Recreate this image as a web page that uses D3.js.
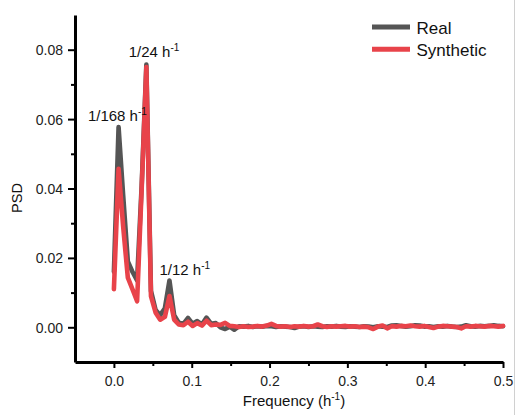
<!DOCTYPE html>
<html>
<head>
<meta charset="utf-8">
<script src="https://cdn.jsdelivr.net/npm/d3@7/dist/d3.min.js"></script>
<style>
  html, body { margin: 0; padding: 0; background: #fff; }
  svg { display: block; font-family: "Liberation Sans", Arial, sans-serif; }
</style>
</head>
<body>
<svg id="chart" width="516" height="415"></svg>
<script>
// Frequency bins (h^-1)
const freq = [
  0.0000, 0.0060, 0.0119, 0.0179, 0.0238, 0.0298, 0.0357, 0.0417, 0.0476, 0.0536,
  0.0595, 0.0655, 0.0714, 0.0774, 0.0833, 0.0893, 0.0952, 0.1012, 0.1071, 0.1131,
  0.1190, 0.1250, 0.1310, 0.1369, 0.1429, 0.1488, 0.1548, 0.1607, 0.1667, 0.1726,
  0.1786, 0.1845, 0.1905, 0.1964, 0.2024, 0.2083, 0.2143, 0.2202, 0.2262, 0.2321,
  0.2381, 0.2440, 0.2500, 0.2560, 0.2619, 0.2679, 0.2738, 0.2798, 0.2857, 0.2917,
  0.2976, 0.3036, 0.3095, 0.3155, 0.3214, 0.3274, 0.3333, 0.3393, 0.3452, 0.3512,
  0.3571, 0.3631, 0.3690, 0.3750, 0.3810, 0.3869, 0.3929, 0.3988, 0.4048, 0.4107,
  0.4167, 0.4226, 0.4286, 0.4345, 0.4405, 0.4464, 0.4524, 0.4583, 0.4643, 0.4702,
  0.4762, 0.4821, 0.4881, 0.4940, 0.5000
];

// Power spectral density of the measured series
const psdReal = [
  0.0160, 0.0577, 0.0380, 0.0190, 0.0160, 0.0135, 0.0410, 0.0757, 0.0105, 0.0050,
  0.0035, 0.0055, 0.0135, 0.0035, 0.0013, 0.0010, 0.0027, 0.0010, 0.0018, 0.0008,
  0.0028, 0.0010, 0.0012, 0.0000, -0.0005, 0.0002, -0.0007, 0.0003, 0.0002, 0.0004,
  0.0001, 0.0003, 0.0002, 0.0004, 0.0003, 0.0001, 0.0003, 0.0002, 0.0001, -0.0002,
  0.0002, 0.0003, 0.0001, 0.0003, 0.0002, 0.0001, 0.0003, 0.0002, 0.0004, 0.0002,
  0.0001, 0.0003, 0.0002, 0.0001, 0.0003, 0.0002, 0.0000, 0.0003, 0.0002, 0.0001,
  0.0005, 0.0006, 0.0004, 0.0002, 0.0003, 0.0006, 0.0005, 0.0002, 0.0003, 0.0001,
  0.0003, 0.0002, 0.0004, 0.0002, 0.0001, 0.0002, 0.0006, 0.0003, 0.0002, 0.0004,
  0.0003, 0.0004, 0.0006, 0.0004, 0.0003
];

// Power spectral density of the generated series
const psdSynthetic = [
  0.0110, 0.0457, 0.0290, 0.0143, 0.0110, 0.0075, 0.0400, 0.0750, 0.0090, 0.0042,
  0.0022, 0.0030, 0.0090, 0.0022, 0.0008, 0.0006, 0.0016, 0.0004, 0.0012, 0.0005,
  0.0019, 0.0006, 0.0008, 0.0007, 0.0013, 0.0004, 0.0003, 0.0001, 0.0003, 0.0001,
  0.0002, 0.0004, 0.0002, 0.0005, 0.0010, 0.0004, 0.0002, 0.0003, 0.0001, 0.0003,
  0.0002, 0.0004, 0.0002, 0.0003, 0.0008, 0.0003, 0.0001, 0.0003, 0.0002, 0.0003,
  0.0004, 0.0002, 0.0003, 0.0001, 0.0002, 0.0000, -0.0005, 0.0002, 0.0005, -0.0003,
  0.0003, 0.0002, 0.0004, 0.0003, 0.0005, 0.0003, 0.0002, 0.0004, 0.0001, -0.0002,
  0.0002, 0.0004, 0.0003, 0.0002, 0.0001, -0.0003, 0.0003, 0.0002, 0.0004, 0.0003,
  0.0002, 0.0004, 0.0003, 0.0002, 0.0004
];

const seriesNames = ["Real", "Synthetic"];
const xTicks = [0.0, 0.1, 0.2, 0.3, 0.4, 0.5];
const xMinorTicks = [0.05, 0.15, 0.25, 0.35, 0.45];
const yTicks = [0.00, 0.02, 0.04, 0.06, 0.08];
const yMinorTicks = [0.01, 0.03, 0.05, 0.07];

// Labelled peaks: index into freq and the label text
const peakIndex = [1, 7, 12];
const peakLabel = ["1/168 h", "1/24 h", "1/12 h"];

const colors = { Real: "#555555", Synthetic: "#e8434a" };
const inkColor = "#111";

const svg = d3.select("#chart");
const plotLeft = 75, plotRight = 503, plotTop = 15, plotBottom = 362;

const x = d3.scaleLinear().domain([-0.05, 0.5]).range([plotLeft, plotRight]);
const y = d3.scaleLinear().domain([-0.01, 0.09]).range([plotBottom, plotTop]);

// Thin border line at the right edge of the canvas
svg.append("line")
  .attr("x1", 514.5).attr("x2", 514.5).attr("y1", 0).attr("y2", 415)
  .attr("stroke", "#d0d0d0").attr("stroke-width", 1);

// Spectra
const line = d3.line().x(d => x(d[0])).y(d => y(d[1]));
const seriesData = {
  Real: freq.map((f, i) => [f, psdReal[i]]),
  Synthetic: freq.map((f, i) => [f, psdSynthetic[i]])
};
seriesNames.forEach(name => {
  svg.append("path")
    .datum(seriesData[name])
    .attr("d", line)
    .attr("fill", "none")
    .attr("stroke", colors[name])
    .attr("stroke-width", 4.6)
    .attr("stroke-linejoin", "round")
    .attr("stroke-linecap", "round");
});

// Axes
function styleAxis(g) {
  g.selectAll(".domain").attr("stroke", "#000").attr("stroke-width", 3);
  g.selectAll(".tick line").attr("stroke", "#000").attr("stroke-width", 2);
  g.selectAll(".tick text")
    .attr("fill", "#222")
    .style("font-size", "14px")
    .style("font-family", "'Liberation Sans', Arial, sans-serif");
}

const yAxis = svg.append("g")
  .attr("transform", `translate(${plotLeft},0)`)
  .call(d3.axisLeft(y).tickValues(yTicks).tickFormat(d3.format(".2f"))
    .tickSizeInner(7).tickSizeOuter(0).tickPadding(5));
styleAxis(yAxis);
yAxis.selectAll(".tick text").attr("dy", "0.36em");

const yMinor = svg.append("g")
  .attr("transform", `translate(${plotLeft},0)`)
  .call(d3.axisLeft(y).tickValues(yMinorTicks).tickFormat("").tickSizeInner(4).tickSizeOuter(0));
yMinor.select(".domain").remove();
yMinor.selectAll(".tick line").attr("stroke", "#000").attr("stroke-width", 2);

const xAxis = svg.append("g")
  .attr("transform", `translate(0,${plotBottom})`)
  .call(d3.axisBottom(x).tickValues(xTicks).tickFormat(d3.format(".1f"))
    .tickSizeInner(6).tickSizeOuter(0).tickPadding(8));
styleAxis(xAxis);

const xMinor = svg.append("g")
  .attr("transform", `translate(0,${plotBottom})`)
  .call(d3.axisBottom(x).tickValues(xMinorTicks).tickFormat("").tickSizeInner(4).tickSizeOuter(0));
xMinor.select(".domain").remove();
xMinor.selectAll(".tick line").attr("stroke", "#000").attr("stroke-width", 2);

// Axis titles
const xTitle = svg.append("text")
  .attr("x", 294).attr("y", 406)
  .attr("text-anchor", "middle")
  .attr("fill", inkColor)
  .style("font-size", "15px");
xTitle.append("tspan").text("Frequency (h");
xTitle.append("tspan").text("-1").style("font-size", "10px").attr("dy", -6);
xTitle.append("tspan").text(")").attr("dy", 6);

svg.append("text")
  .attr("transform", "translate(21.5,198) rotate(-90)")
  .attr("text-anchor", "middle")
  .attr("fill", inkColor)
  .style("font-size", "14.5px")
  .text("PSD");

// Peak annotations
const labelOffset = [[-30.7, -6.5], [-17.7, -7.5], [-10, -5]];
peakIndex.forEach((idx, j) => {
  const px = x(freq[idx]);
  const py = y(Math.max(psdReal[idx], psdSynthetic[idx]));
  const t = svg.append("text")
    .attr("x", px + labelOffset[j][0])
    .attr("y", py + labelOffset[j][1])
    .attr("fill", inkColor)
    .style("font-size", "15px");
  t.append("tspan").text(peakLabel[j]);
  t.append("tspan").text("-1").style("font-size", "10px").attr("dy", -6);
});

// Legend
const legend = svg.append("g");
seriesNames.forEach((name, i) => {
  const ly = 27 + i * 22.3;
  legend.append("line")
    .attr("x1", 372).attr("x2", 410).attr("y1", ly).attr("y2", ly)
    .attr("stroke", colors[name]).attr("stroke-width", 5);
  legend.append("text")
    .attr("x", 416.5).attr("y", ly + 6.5)
    .attr("fill", inkColor)
    .style("font-size", "17px")
    .text(name);
});
</script>
</body>
</html>
